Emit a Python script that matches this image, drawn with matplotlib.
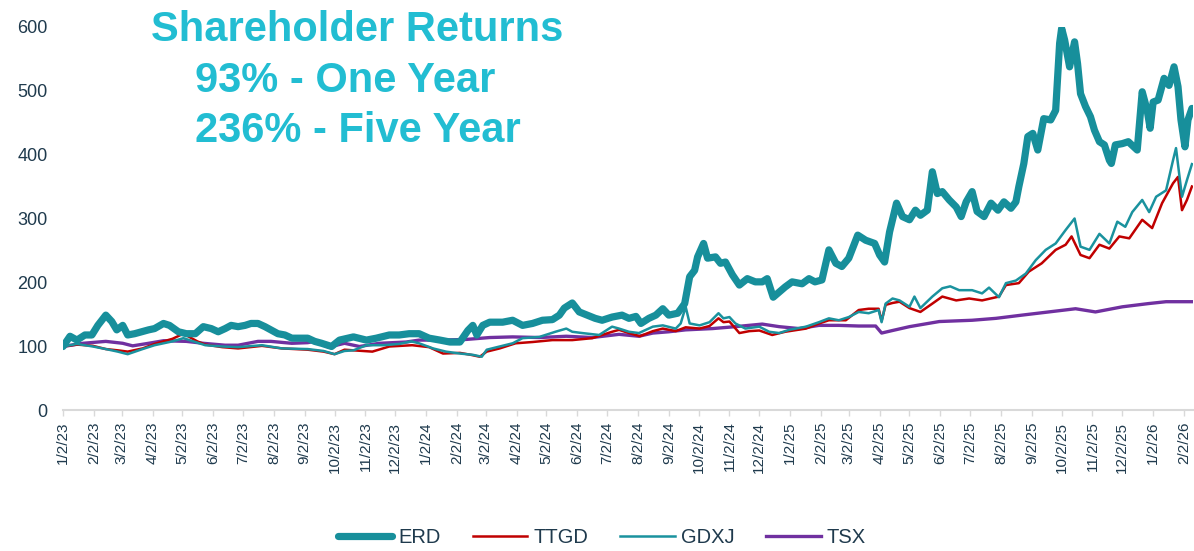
import pandas as pd
import matplotlib
matplotlib.use('Agg')
from matplotlib import pyplot as plt
import matplotlib.dates as mdates

plt.rcParams['font.family'] = ['Liberation Sans', 'DejaVu Sans']

# values are indexed to 100 at 1/2/23, x = days since 1/2/23
start = pd.Timestamp('2023-01-02')

erd_days = [0, 7, 14, 22, 29, 35, 43, 49, 54, 60, 65, 72, 79, 86, 92, 101, 107, 116, 124, 133,
            141, 149, 156, 163, 169, 176, 183, 189, 196, 203, 209, 216, 223, 230, 236, 246, 253, 260, 270, 278,
            292, 305, 315, 328, 338, 348, 358, 368, 379, 389, 399, 407, 412, 416, 422, 429, 442, 452, 462, 472,
            482, 492, 499, 504, 512, 519, 527, 535, 542, 552, 562, 569, 576, 581, 589, 596, 603, 609, 618, 625,
            630, 635, 638, 644, 648, 656, 661, 666, 673, 680, 688, 696, 703, 708, 714, 720, 726, 733, 743, 750,
            756, 763, 770, 777, 783, 790, 799, 807, 816, 821, 826, 831, 838, 844, 851, 857, 862, 869, 874, 879,
            884, 891, 898, 903, 908, 914, 919, 926, 933, 940, 946, 953, 958, 961, 966, 970, 975, 980, 986, 993,
            998, 1002, 1004, 1007, 1012, 1017, 1020, 1023, 1028, 1033, 1037, 1042, 1047, 1052, 1054, 1058, 1065,
            1071, 1080, 1085, 1090, 1093, 1096, 1101, 1107, 1112, 1117, 1121, 1124, 1128, 1131, 1135]
erd_vals = [100, 116, 110, 118, 118, 133, 149, 139, 126, 133, 118, 120, 123, 126, 128, 136, 133, 123, 120, 120,
            131, 128, 123, 128, 133, 131, 133, 136, 136, 131, 126, 120, 118, 113, 113, 113, 108, 105, 100, 110,
            115, 110, 113, 118, 118, 120, 120, 113, 110, 107, 107, 125, 133, 118, 133, 138, 138, 141, 133, 136,
            141, 142, 149, 160, 168, 154, 149, 144, 141, 146, 149, 144, 147, 136, 144, 149, 159, 149, 152, 167,
            209, 219, 240, 261, 238, 240, 230, 232, 212, 196, 206, 201, 201, 206, 177, 185, 193, 201, 198, 206,
            201, 204, 251, 230, 225, 238, 274, 266, 261, 243, 232, 279, 324, 303, 298, 313, 305, 313, 373, 339,
            342, 329, 318, 303, 326, 342, 311, 303, 324, 313, 326, 316, 326, 350, 386, 428, 433, 407, 456, 454,
            469, 574, 597, 579, 537, 576, 542, 495, 475, 459, 438, 420, 415, 391, 386, 415, 417,
            420, 407, 498, 469, 441, 482, 485, 519, 508, 537, 506, 454, 412, 454, 472]

ttgd_days = [0, 14, 30, 43, 55, 65, 80, 92, 110, 121, 135, 143, 160, 176, 200, 220, 246, 262, 273, 283,
             292, 311, 328, 351, 368, 382, 399, 410, 419, 426, 439, 455, 472, 492, 512, 532, 552, 559, 569, 580,
             593, 603, 616, 626, 640, 650, 659, 664, 670, 680, 690, 700, 713, 726, 747, 760, 770, 787, 800, 810,
             820, 823, 827, 834, 841, 851, 862, 874, 884, 898, 911, 924, 941, 948, 961, 971, 984, 998, 1008, 1014,
             1023, 1032, 1042, 1052, 1062, 1072, 1085, 1095, 1105, 1116, 1121, 1125, 1130, 1135]
ttgd_vals = [100, 103, 101, 96, 94, 92, 97, 104, 112, 120, 108, 103, 99, 97, 101, 97, 95, 92, 88, 95,
             94, 92, 100, 102, 99, 89, 90, 87, 84, 92, 97, 105, 107, 110, 110, 113, 123, 126, 121, 116,
             124, 128, 124, 130, 128, 132, 144, 138, 139, 121, 124, 125, 118, 123, 128, 136, 141, 141, 157, 159,
             159, 140, 165, 168, 170, 160, 154, 167, 178, 172, 175, 172, 178, 196, 199, 217, 230, 251, 259, 272,
             243, 238, 259, 253, 272, 269, 298, 285, 324, 355, 365, 313, 329, 350]

gdxj_days = [0, 14, 30, 43, 55, 65, 80, 92, 110, 121, 135, 143, 160, 176, 200, 220, 246, 262, 273, 283,
             292, 305, 322, 338, 350, 358, 372, 385, 399, 412, 421, 426, 439, 452, 462, 479, 495, 506, 512, 522,
             539, 552, 559, 569, 579, 593, 603, 616, 621, 626, 630, 640, 650, 659, 664, 670, 676, 686, 700, 710,
             720, 730, 747, 760, 770, 780, 790, 800, 810, 820, 823, 827, 834, 841, 851, 856, 862, 874, 884, 892,
             901, 914, 924, 931, 941, 948, 958, 968, 978, 988, 998, 1008, 1017, 1023, 1032, 1042, 1052, 1060,
             1068, 1075, 1085, 1092, 1099, 1109, 1116, 1119, 1125, 1130, 1135]
gdxj_vals = [100, 104, 100, 96, 92, 88, 96, 102, 108, 113, 106, 102, 100, 99, 102, 97, 96, 93, 88, 93,
             94, 102, 102, 104, 108, 105, 97, 92, 89, 87, 84, 95, 100, 105, 113, 115, 123, 128, 123, 121,
             118, 131, 128, 123, 121, 131, 133, 128, 136, 162, 136, 133, 138, 152, 144, 146, 136, 128, 131, 123,
             121, 126, 131, 138, 144, 141, 146, 154, 152, 157, 138, 167, 175, 172, 162, 178, 160, 178, 191, 194,
             188, 188, 183, 192, 177, 199, 203, 214, 235, 251, 261, 282, 300, 256, 251, 276, 261, 295,
             287, 310, 329, 310, 334, 344, 391, 410, 334, 360, 385]

tsx_days = [0, 20, 43, 60, 70, 86, 101, 124, 141, 163, 176, 196, 209, 230, 246, 253, 267, 283, 298, 318,
            345, 358, 379, 405, 429, 452, 479, 506, 532, 559, 579, 593, 609, 626, 653, 676, 703, 720, 740, 760,
            780, 800, 817, 823, 834, 851, 881, 914, 938, 964, 991, 1018, 1038, 1065, 1091, 1109, 1122, 1135]
tsx_vals = [100, 105, 108, 105, 101, 105, 109, 108, 105, 102, 102, 108, 108, 105, 106, 108, 99, 105, 100, 105,
            107, 110, 110, 111, 114, 115, 114, 116, 114, 119, 116, 121, 123, 126, 128, 131, 135, 131, 128, 133,
            133, 132, 132, 121, 125, 131, 139, 141, 144, 149, 154, 159, 154, 162, 167, 170, 170, 170]

def to_dates(days):
    return start + pd.to_timedelta(days, unit='D')

fig = plt.figure(figsize=(11.94, 5.51), dpi=100)
ax = fig.add_axes([0.0528, 0.255, 0.9463, 0.6969])

ax.plot(to_dates(tsx_days), tsx_vals, color='#7030A0', lw=2.4, label='TSX', zorder=2)
ax.plot(to_dates(ttgd_days), ttgd_vals, color='#C00000', lw=1.8, label='TTGD', zorder=3)
ax.plot(to_dates(gdxj_days), gdxj_vals, color='#1A929E', lw=1.8, label='GDXJ', zorder=4)
ax.plot(to_dates(erd_days), erd_vals, color='#178F9B', lw=5.2, solid_joinstyle='round',
        solid_capstyle='round', label='ERD', zorder=5)

ax.set_ylim(0, 600)
ax.set_xlim(start, start + pd.Timedelta(days=1136))
ax.set_yticks(range(0, 601, 100))

ax.xaxis.set_major_locator(mdates.MonthLocator(bymonthday=2))
ax.xaxis.set_major_formatter(mdates.DateFormatter('%-m/%-d/%y'))

for s in ['top', 'right', 'left']:
    ax.spines[s].set_visible(False)
ax.spines['bottom'].set_color('#d9d9d9')
ax.spines['bottom'].set_linewidth(1.5)

txt_color = '#1f3a4d'
ax.tick_params(axis='y', length=0, pad=11, labelsize=13, labelcolor=txt_color)
ax.tick_params(axis='x', length=4, width=1, color='#d9d9d9', pad=4, labelsize=11,
               labelcolor=txt_color, labelrotation=90)

# headline text
title_color = '#22BDD2'
fig.text(0.1265, 0.926, 'Shareholder Returns', fontsize=30, fontweight='bold', color=title_color, va='baseline')
fig.text(0.1633, 0.833, '93% - One Year', fontsize=30, fontweight='bold', color=title_color, va='baseline')
fig.text(0.1633, 0.742, '236% - Five Year', fontsize=30, fontweight='bold', color=title_color, va='baseline')

handles, labels = ax.get_legend_handles_labels()
order = [labels.index(n) for n in ['ERD', 'TTGD', 'GDXJ', 'TSX']]
leg = fig.legend([handles[i] for i in order], [labels[i] for i in order], loc='center',
                 bbox_to_anchor=(0.504, 0.024), ncol=4, frameon=False, fontsize=14.5,
                 handlelength=2.7, handletextpad=0.3, columnspacing=1.6)
for t in leg.get_texts():
    t.set_color(txt_color)

plt.savefig('out.png', dpi=100)
